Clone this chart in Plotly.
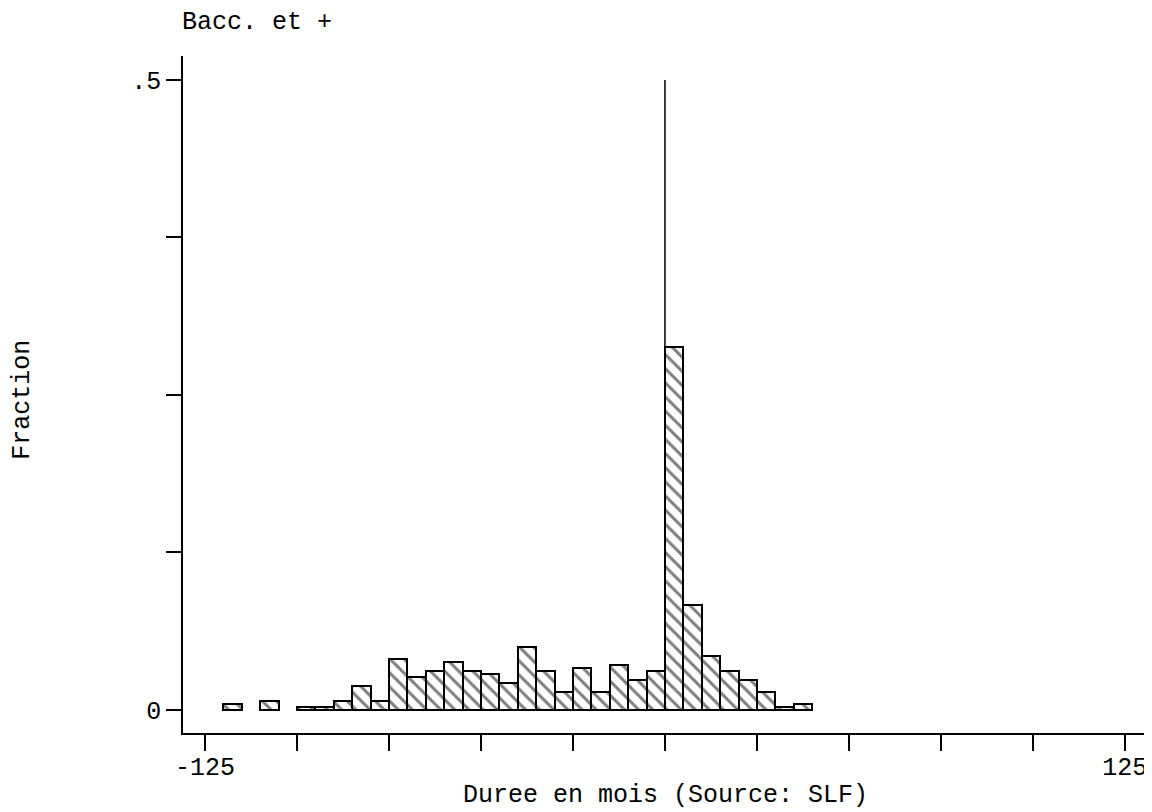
import plotly.graph_objects as go

# Histogram data: left edge of each 5-month bin and its fraction
bin_start = [-120, -110, -100, -95, -90, -85, -80, -75, -70, -65, -60, -55, -50,
             -45, -40, -35, -30, -25, -20, -15, -10, -5, 0, 5, 10, 15, 20, 25, 30, 35]
fraction = [0.0048, 0.0071, 0.0024, 0.0024, 0.0071, 0.0190, 0.0071, 0.0405, 0.0262,
            0.0310, 0.0381, 0.0310, 0.0286, 0.0214, 0.0500, 0.0310, 0.0143, 0.0333,
            0.0143, 0.0357, 0.0238, 0.0310, 0.2881, 0.0833, 0.0429, 0.0310, 0.0238,
            0.0143, 0.0024, 0.0048]
bin_width = 5

x_tickvals = [-125, -100, -75, -50, -25, 0, 25, 50, 75, 100, 125]
x_ticktext = ["-125", "", "", "", "", "", "", "", "", "", "125"]
y_tickvals = [0, 0.125, 0.25, 0.375, 0.5]
y_ticktext = ["0", "", "", "", ".5"]

title_text = "Bacc. et +"
x_title = "Duree en mois (Source: SLF)"
y_title = "Fraction"

FONT = "Liberation Mono"

centers = [s + bin_width / 2 for s in bin_start]

fig = go.Figure()
fig.add_trace(go.Bar(
    x=centers, y=fraction, width=[bin_width] * len(centers),
    marker=dict(color="white",
                line=dict(color="black", width=2),
                pattern=dict(shape="\\", fgcolor="black", bgcolor="white",
                             size=10, solidity=0.3)),
    showlegend=False,
))

fig.add_shape(type="line", xref="x", yref="y", x0=0, x1=0, y0=0, y1=0.5,
              line=dict(color="black", width=1.5))

fig.update_layout(
    width=1144, height=804,
    margin=dict(l=175, r=4, t=48, b=79),
    paper_bgcolor="white", plot_bgcolor="white",
    font=dict(family=FONT, size=25, color="black"),
    bargap=0,
    xaxis=dict(range=[-131, 131.3], tickvals=x_tickvals, ticktext=x_ticktext,
               ticks="outside", ticklen=16, tickwidth=1.5, tickcolor="black",
               showline=True, linecolor="black", linewidth=1.5,
               showgrid=False, zeroline=False, fixedrange=True,
               ticklabelstandoff=-6,
               tickfont=dict(family=FONT, size=25)),
    yaxis=dict(range=[-0.0183, 0.519], tickvals=y_tickvals, ticktext=y_ticktext,
               ticks="outside", ticklen=15, tickwidth=1.5, tickcolor="black",
               showline=True, linecolor="black", linewidth=1.5,
               showgrid=False, zeroline=False, fixedrange=True,
               tickfont=dict(family=FONT, size=25)),
    annotations=[
        dict(text=title_text, xref="paper", yref="paper", x=-0.003, y=1.05,
             xanchor="left", yanchor="middle", showarrow=False,
             font=dict(family=FONT, size=25)),
        dict(text=x_title, xref="paper", yref="paper", x=0.4995, y=-0.0916,
             xanchor="center", yanchor="middle", showarrow=False,
             font=dict(family=FONT, size=25)),
        dict(text=y_title, xref="paper", yref="paper", x=-0.166, y=0.492,
             xanchor="center", yanchor="middle", showarrow=False, textangle=-90,
             font=dict(family=FONT, size=25)),
    ],
)

fig.write_html("out.html")
